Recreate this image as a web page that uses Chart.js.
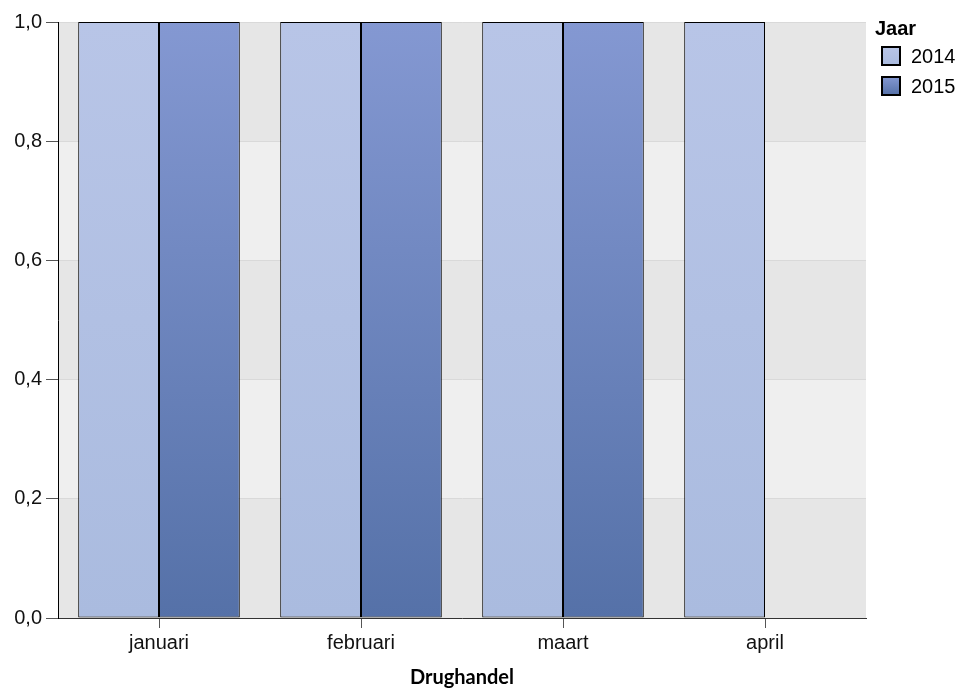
<!DOCTYPE html>
<html>
<head>
<meta charset="utf-8">
<script src="https://cdn.jsdelivr.net/npm/chart.js@4/dist/chart.umd.min.js"></script>
<style>
html,body{margin:0;padding:0;background:#fff;}
#wrap{width:964px;height:690px;position:relative;}
</style>
</head>
<body>
<div id="wrap"><canvas id="c" width="964" height="690"></canvas></div>
<script>
const categories = ["januari", "februari", "maart", "april"];
const series2014 = [1, 1, 1, 1];
const series2015 = [1, 1, 1, null];
const seriesLabels = ["2014", "2015"];
const yTicks = [0, 0.2, 0.4, 0.6, 0.8, 1.0];
const xTitle = "Drughandel";
const legendTitle = "Jaar";

const gradStops = {
  "2014": ["#b8c5e7", "#aabbdf"],
  "2015": ["#8498d2", "#5571a8"]
};

function makeGrad(ctx, top, bottom, key) {
  const g = ctx.createLinearGradient(0, top, 0, bottom);
  g.addColorStop(0, gradStops[key][0]);
  g.addColorStop(1, gradStops[key][1]);
  return g;
}

function bg(key) {
  return function (context) {
    const chart = context.chart;
    const area = chart.chartArea;
    if (!area) return gradStops[key][0];
    return makeGrad(chart.ctx, area.top, area.bottom, key);
  };
}

const bandPlugin = {
  id: "bands",
  beforeDraw(chart) {
    const { ctx, chartArea: a, scales } = chart;
    const y = scales.y;
    ctx.save();
    for (let i = 0; i < yTicks.length - 1; i++) {
      const y0 = y.getPixelForValue(yTicks[i]);
      const y1 = y.getPixelForValue(yTicks[i + 1]);
      ctx.fillStyle = (i % 2 === 0) ? "#e6e6e6" : "#efefef";
      ctx.fillRect(a.left, y1, a.right - a.left, y0 - y1);
    }
    ctx.restore();
  }
};

const legendPlugin = {
  id: "customLegend",
  afterDraw(chart) {
    const ctx = chart.ctx;
    ctx.save();
    ctx.fillStyle = "#000";
    ctx.font = "bold 20px 'Liberation Sans', Arial, sans-serif";
    ctx.textBaseline = "middle";
    ctx.textAlign = "left";
    ctx.fillText(legendTitle, 875, 29);
    ctx.font = "20px 'Liberation Sans', Arial, sans-serif";
    chart.data.datasets.forEach((ds, i) => {
      const bx = 882, by = 47 + i * 30, s = 18;
      ctx.fillStyle = makeGrad(ctx, by, by + s, ds.label);
      ctx.fillRect(bx, by, s, s);
      ctx.lineWidth = 2;
      ctx.strokeStyle = "#000";
      ctx.strokeRect(bx, by, s, s);
      ctx.fillStyle = "#000";
      ctx.fillText(ds.label, 911, by + s / 2 + 1);
    });
    ctx.restore();
  }
};

new Chart(document.getElementById("c"), {
  type: "bar",
  data: {
    labels: categories,
    datasets: [
      { label: seriesLabels[0], data: series2014, backgroundColor: bg("2014"), borderColor: "#000", borderWidth: 1, borderSkipped: false },
      { label: seriesLabels[1], data: series2015, backgroundColor: bg("2015"), borderColor: "#000", borderWidth: 1, borderSkipped: false }
    ]
  },
  options: {
    responsive: false,
    animation: false,
    devicePixelRatio: 1,
    layout: { padding: { top: 22, right: 98, left: 0, bottom: 0 } },
    datasets: { bar: { categoryPercentage: 0.8, barPercentage: 1.0 } },
    plugins: { legend: { display: false }, tooltip: { enabled: false } },
    scales: {
      x: {
        offset: true,
        grid: { offset: false, drawOnChartArea: false, drawTicks: true, tickLength: 10, tickColor: "#555" },
        border: { color: "#333", width: 1 },
        ticks: { color: "#111", font: { family: "'Liberation Sans', Arial, sans-serif", size: 20 }, padding: 3 },
        title: { display: true, text: xTitle, color: "#000", font: { family: "Lato, 'Noto Sans', sans-serif", size: 20, weight: "bold" }, padding: { top: 6, bottom: 0 } },
        afterFit(scale) { scale.height = 72; }
      },
      y: {
        min: 0, max: 1,
        afterBuildTicks(scale) { scale.ticks = yTicks.map(v => ({ value: v })); },
        grid: { color: "#d9d9d9", tickColor: "#555", tickLength: 12, drawTicks: true },
        border: { color: "#000", width: 1 },
        ticks: {
          color: "#111",
          font: { family: "'Liberation Sans', Arial, sans-serif", size: 20 },
          padding: 4,
          callback: v => Number(v).toFixed(1).replace(".", ",")
        },
        afterFit(scale) { scale.width = 58; }
      }
    }
  },
  plugins: [bandPlugin, legendPlugin]
});
</script>
</body>
</html>
